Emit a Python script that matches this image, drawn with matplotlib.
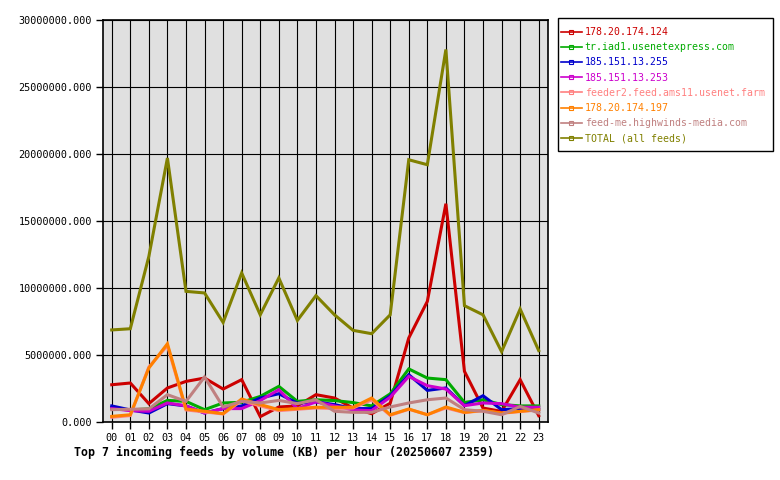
import matplotlib
matplotlib.use("Agg")
import matplotlib.pyplot as plt
from matplotlib.patches import Rectangle

hours = ["00", "01", "02", "03", "04", "05", "06", "07", "08", "09", "10", "11",
         "12", "13", "14", "15", "16", "17", "18", "19", "20", "21", "22", "23"]

names = ["178.20.174.124", "tr.iad1.usenetexpress.com", "185.151.13.255",
         "185.151.13.253", "feeder2.feed.ams11.usenet.farm", "178.20.174.197",
         "feed-me.highwinds-media.com", "TOTAL (all feeds)"]
colors = ["#cc0000", "#00aa00", "#0000cc", "#cc00cc", "#ff8080", "#ff8000",
          "#c08080", "#808000"]

red = [2.78, 2.91, 1.37, 2.54, 3.03, 3.28, 2.46, 3.16, 0.40, 1.12, 1.20, 2.04,
       1.79, 1.04, 0.62, 1.40, 6.27, 9.00, 16.29, 3.78, 1.04, 0.79, 3.16, 0.47]
green = [1.00, 0.90, 0.98, 1.61, 1.54, 0.92, 1.42, 1.47, 1.91, 2.66, 1.54, 1.66,
         1.60, 1.45, 1.20, 2.10, 3.96, 3.28, 3.16, 1.46, 1.66, 1.30, 1.20, 1.20]
blue = [1.20, 0.90, 0.67, 1.37, 1.20, 0.67, 1.00, 1.20, 1.79, 2.11, 1.40, 1.50,
        1.30, 1.00, 1.00, 1.95, 3.53, 2.36, 2.54, 1.22, 1.96, 0.92, 1.00, 0.92]
magenta = [1.00, 0.85, 0.80, 1.42, 1.20, 0.67, 1.00, 1.00, 1.60, 2.41, 1.00, 1.50,
           1.20, 0.90, 0.85, 1.85, 3.40, 2.71, 2.46, 1.22, 1.42, 1.37, 1.10, 1.10]
feeder2 = [0.35, 0.48, 4.10, 5.70, 0.90, 0.75, 0.60, 1.60, 1.20, 0.85, 0.95, 1.05,
           1.00, 1.05, 1.65, 0.50, 0.95, 0.55, 1.05, 0.70, 0.85, 0.65, 0.78, 0.90]
orange = [0.42, 0.54, 4.03, 5.84, 0.97, 0.80, 0.62, 1.72, 1.30, 0.92, 1.00, 1.10,
          1.10, 1.10, 1.79, 0.54, 0.97, 0.54, 1.12, 0.72, 0.87, 0.67, 0.80, 0.92]
feedme = [0.92, 0.95, 0.98, 2.04, 1.54, 3.36, 1.12, 1.54, 1.42, 1.61, 1.37, 1.66,
          0.80, 0.72, 0.72, 1.12, 1.42, 1.66, 1.79, 0.92, 0.80, 0.54, 1.16, 0.67]
total = [6.87, 6.96, 12.36, 19.70, 9.75, 9.63, 7.43, 11.12, 8.00, 10.75, 7.58, 9.43,
         8.00, 6.84, 6.59, 8.00, 19.57, 19.20, 27.80, 8.68, 8.00, 5.25, 8.43, 5.33]

series = [red, green, blue, magenta, feeder2, orange, feedme, total]

W, H = 780, 480
fig = plt.figure(figsize=(W / 100, H / 100), dpi=100)
fig.patch.set_facecolor("white")
ax = fig.add_axes([103 / W, 1 - 422 / H, (548 - 103) / W, (422 - 20) / H])
ax.set_facecolor("#e0e0e0")

x = list(range(len(hours)))
handles = []
for vals, name, col in zip(series, names, colors):
    ax.plot(x, [v * 1e6 for v in vals], color=col, lw=2.2, solid_joinstyle="miter",
            zorder=3)
    h, = ax.plot([], [], color=col, lw=1.2, marker="s", markersize=3,
                 fillstyle="none", markeredgewidth=0.8)
    handles.append(h)

ax.set_xlim(-0.47, 23.5)
ax.set_ylim(0, 30e6)
ax.set_xticks(x)
ax.set_xticklabels(hours)
yt = [0, 5e6, 10e6, 15e6, 20e6, 25e6, 30e6]
ax.set_yticks(yt)
ax.set_yticklabels(["%.3f" % v for v in yt])
ax.grid(True, color="black", lw=0.8, zorder=1)
ax.set_axisbelow(True)
for s in ax.spines.values():
    s.set_color("black")
    s.set_linewidth(1.2)
ax.tick_params(direction="out", length=5, width=1, color="black",
               labelsize=7.3, pad=3)
for lab in ax.get_xticklabels() + ax.get_yticklabels():
    lab.set_family("DejaVu Sans Mono")

fig.text(74 / W, 1 - 452 / H,
         "Top 7 incoming feeds by volume (KB) per hour (20250607 2359)",
         family="DejaVu Sans Mono", fontweight="bold", fontsize=8.4,
         ha="left", va="center")

# legend frame drawn explicitly
fig.patches.append(Rectangle((558 / W, 1 - 151 / H), (773 - 558) / W, (151 - 18) / H,
                             transform=fig.transFigure, facecolor="white",
                             edgecolor="black", lw=1.0, zorder=0))

leg = fig.legend(handles, names, loc="upper left",
                 bbox_to_anchor=(561 / W, 1 - 27 / H),
                 frameon=False,
                 prop={"family": "DejaVu Sans Mono", "size": 7.1},
                 labelcolor=colors, handlelength=2.1, handletextpad=0.3,
                 labelspacing=0.53, borderpad=0, borderaxespad=0)

fig.savefig("out.png", dpi=100)
